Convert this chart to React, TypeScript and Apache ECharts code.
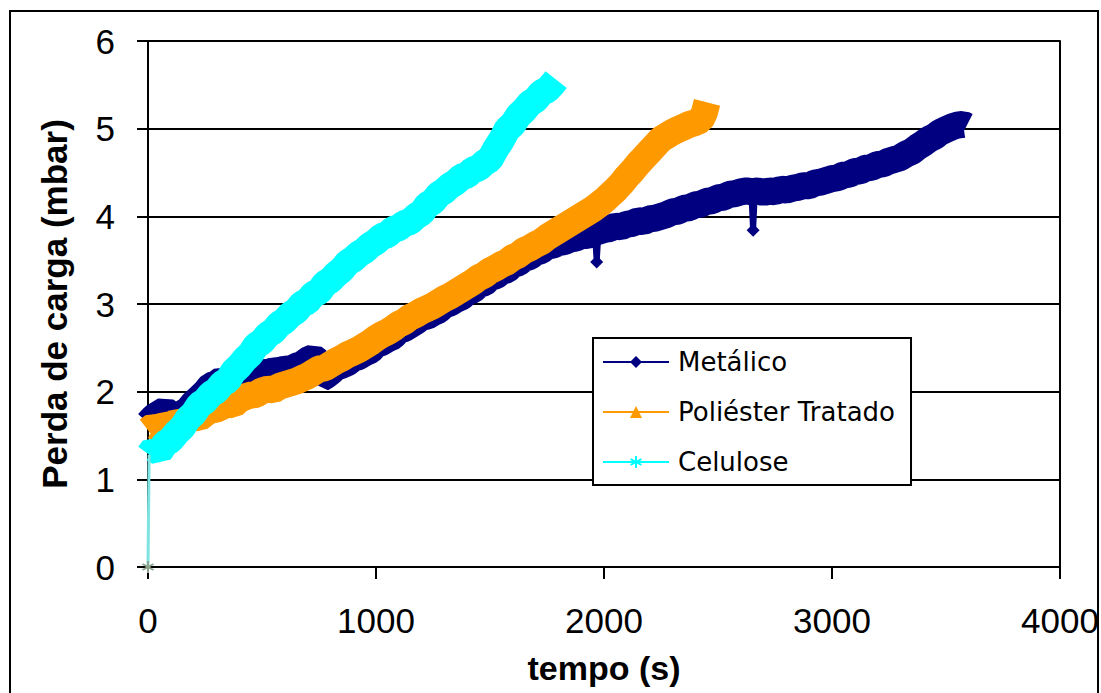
import { useEffect, useRef } from "react";
import * as echarts from "echarts";

// Perda de carga ao longo do ensaio, para três meios filtrantes.
const metalicoTempo = [
  0, 25, 50, 75, 100, 125, 150, 175, 200, 225, 250, 275, 300, 325, 350, 375, 400, 425, 450, 475,
  500, 525, 550, 575, 600, 625, 650, 675, 700, 725, 745, 760, 780, 800, 825, 850, 875, 900, 925, 950,
  975, 1000, 1025, 1050, 1075, 1100, 1125, 1150, 1175, 1200, 1225, 1250, 1275, 1300, 1325, 1350, 1375,
  1400, 1425, 1450, 1475, 1500, 1525, 1550, 1575, 1600, 1625, 1650, 1675, 1700, 1725, 1750, 1775, 1800,
  1825, 1850, 1875, 1900, 1925, 1950, 1975, 2000, 2025, 2050, 2075, 2100, 2125, 2150, 2175, 2200,
  2225, 2250, 2275, 2300, 2325, 2350, 2375, 2400, 2425, 2450, 2475, 2500, 2525, 2550, 2575, 2600, 2625,
  2650, 2675, 2700, 2725, 2750, 2775, 2800, 2825, 2850, 2875, 2900, 2925, 2950, 2975, 3000,
  3025, 3050, 3075, 3100, 3125, 3150, 3175, 3200, 3225, 3250, 3275, 3300, 3325, 3350, 3375, 3400, 3425,
  3450, 3475, 3500, 3525, 3550, 3575, 3590,
];
const metalicoPerda = [
  1.64, 1.71, 1.75, 1.79, 1.74, 1.73, 1.75, 1.79, 1.87, 1.93, 1.99, 2.07, 2.09, 2.14, 2.11, 2.15, 2.12, 2.16, 2.18, 2.17,
  2.22, 2.21, 2.24, 2.23, 2.26, 2.25, 2.29, 2.31, 2.36, 2.39, 2.35, 2.15, 2.18, 2.22, 2.28, 2.30, 2.33, 2.38, 2.40, 2.44,
  2.47, 2.54, 2.56, 2.60, 2.63, 2.70, 2.72, 2.76, 2.80, 2.85, 2.86, 2.90, 2.93, 2.99, 3.01, 3.05, 3.08,
  3.14, 3.16, 3.22, 3.24, 3.30, 3.32, 3.37, 3.39, 3.45, 3.47, 3.52, 3.54, 3.59, 3.61, 3.66, 3.67, 3.70,
  3.71, 3.74, 3.75, 3.78, 3.78, 3.81, 3.83, 3.85, 3.86, 3.89, 3.88, 3.91, 3.92, 3.95, 3.94, 3.97,
  3.98, 4.00, 4.02, 4.05, 4.06, 4.09, 4.10, 4.13, 4.14, 4.17, 4.18, 4.21, 4.22, 4.25, 4.26, 4.28, 4.29,
  4.28, 4.29, 4.27, 4.29, 4.28, 4.31, 4.30, 4.32, 4.33, 4.35, 4.35, 4.38, 4.39, 4.41, 4.43,
  4.44, 4.47, 4.48, 4.51, 4.52, 4.55, 4.56, 4.59, 4.60, 4.63, 4.65, 4.67, 4.71, 4.74, 4.79, 4.83, 4.88,
  4.91, 4.96, 4.99, 5.02, 5.04, 5.05, 5.03,
];
// leituras isoladas em que o metálico caiu momentaneamente
const metalicoQuedaTempo = [1960, 1968, 1976, 2646, 2654, 2662];
const metalicoQuedaPerda = [3.81, 3.48, 3.83, 4.28, 3.84, 4.29];

const poliesterTempo = [
  0, 25, 50, 75, 100, 125, 150, 175, 200, 225, 250, 275, 300, 325, 350, 375, 400, 425, 450, 475,
  500, 525, 550, 575, 600, 625, 650, 675, 700, 725, 750, 775, 800, 825, 850, 875, 900, 925, 950, 975,
  1000, 1025, 1050, 1075, 1100, 1125, 1150, 1175, 1200, 1225, 1250, 1275, 1300, 1325, 1350, 1375,
  1400, 1425, 1450, 1475, 1500, 1525, 1550, 1575, 1600, 1625, 1650, 1675, 1700, 1725, 1750, 1775,
  1800, 1825, 1850, 1875, 1900, 1925, 1950, 1975, 2000, 2025, 2050, 2075, 2100, 2125, 2150, 2175,
  2200, 2225, 2250, 2275, 2300, 2325, 2350, 2375, 2400, 2425, 2440, 2452,
];
const poliesterPerda = [
  1.56, 1.61, 1.58, 1.63, 1.61, 1.66, 1.64, 1.69, 1.71, 1.70, 1.75, 1.79, 1.80, 1.83, 1.86, 1.85, 1.91, 1.94, 1.96, 1.97,
  2.01, 2.03, 2.02, 2.06, 2.08, 2.10, 2.12, 2.15, 2.18, 2.22, 2.26, 2.27, 2.31, 2.35, 2.38, 2.42, 2.45, 2.48, 2.52, 2.56,
  2.61, 2.65, 2.68, 2.72, 2.77, 2.80, 2.85, 2.88, 2.92, 2.95, 2.98, 3.02, 3.06, 3.09, 3.13, 3.17,
  3.21, 3.25, 3.30, 3.33, 3.38, 3.41, 3.45, 3.48, 3.53, 3.56, 3.61, 3.64, 3.68, 3.71, 3.76, 3.80,
  3.84, 3.88, 3.92, 3.96, 4.00, 4.04, 4.08, 4.13, 4.18, 4.24, 4.30, 4.37, 4.45, 4.52, 4.60, 4.67,
  4.74, 4.81, 4.88, 4.92, 4.96, 4.99, 5.02, 5.05, 5.07, 5.10, 5.18, 5.30,
];

const celuloseTempo = [
  5, 25, 50, 75, 100, 125, 150, 175, 200, 225, 250, 275, 300, 325, 350, 375, 400, 425, 450, 475,
  500, 525, 550, 575, 600, 625, 650, 675, 700, 725, 750, 775, 800, 825, 850, 875, 900, 925, 950, 975,
  1000, 1025, 1050, 1075, 1100, 1125, 1150, 1175, 1200, 1225, 1250, 1275, 1300, 1325, 1350, 1375,
  1400, 1425, 1450, 1475, 1500, 1525, 1550, 1575, 1600, 1625, 1650, 1675, 1700, 1725, 1750, 1775, 1790,
];
const celulosePerda = [
  1.28, 1.35, 1.31, 1.41, 1.45, 1.53, 1.59, 1.69, 1.75, 1.85, 1.89, 1.97, 2.01, 2.09, 2.13, 2.23, 2.29, 2.37, 2.43, 2.53,
  2.57, 2.65, 2.69, 2.77, 2.81, 2.88, 2.92, 3.00, 3.03, 3.11, 3.14, 3.23, 3.27, 3.34, 3.39, 3.47, 3.51, 3.57, 3.61, 3.67,
  3.71, 3.77, 3.79, 3.85, 3.87, 3.92, 3.94, 4.00, 4.04, 4.13, 4.17, 4.25, 4.29, 4.35, 4.39, 4.45,
  4.47, 4.53, 4.55, 4.61, 4.65, 4.77, 4.87, 4.99, 5.05, 5.15, 5.21, 5.29, 5.33, 5.41, 5.44, 5.51, 5.56,
];
// primeiro registo da celulose: arranque a partir de zero
const celuloseInicioTempo = [0, 5];
const celuloseInicioPerda = [0, 1.28];

const NAVY = "#000080";
const LARANJA = "#ff9900";
const CIANO = "#00ffff";

const ASTERISCO =
  "path://M4.2,0L5.8,0L5.8,10L4.2,10Z M0.27,3.19L1.07,1.81L9.73,6.81L8.93,8.19Z M0.27,6.81L8.93,1.81L9.73,3.19L1.07,8.19Z";

function pares(t: number[], v: number[]) {
  return t.map((x, i) => [x, v[i]]);
}

const FONTE_EIXO = "'Liberation Sans', Arial, sans-serif";
const FONTE_TITULO = "'Liberation Sans', Arial, sans-serif";
const LARGURA_BANDA = 27;

export default function App() {
  const ref = useRef<HTMLDivElement>(null);

  useEffect(() => {
    if (!ref.current) return;
    const chart = echarts.init(ref.current, null, { renderer: "svg" });
    const linhaEixo = { show: true, onZero: false, lineStyle: { color: "#000", width: 2 } };

    const inicio = pares(celuloseInicioTempo, celuloseInicioPerda).map((p, i) =>
      i === 0
        ? { value: p, symbol: ASTERISCO, symbolSize: 12, itemStyle: { color: "#8fa58f" } }
        : { value: p, symbol: "none" }
    );

    // cada queda é um pequeno traço fino com o marcador na ponta
    const quedas: any[] = [];
    pares(metalicoQuedaTempo, metalicoQuedaPerda).forEach((p, i) => {
      if (i > 0 && i % 3 === 0) quedas.push("-");
      quedas.push(i % 3 === 1 ? { value: p, symbol: "diamond", symbolSize: 13 } : { value: p, symbol: "none" });
    });

    chart.setOption({
      animation: false,
      backgroundColor: "#fff",
      graphic: [
        {
          type: "rect",
          shape: { x: 10, y: 11, width: 1088, height: 700 },
          style: { fill: "none", stroke: "#000", lineWidth: 2 },
          silent: true,
        },
      ],
      grid: { left: 148, top: 41, width: 912, height: 526, containLabel: false, outerBoundsMode: "none" },
      xAxis: {
        type: "value",
        min: 0,
        max: 4000,
        interval: 1000,
        name: "tempo (s)",
        nameLocation: "middle",
        nameGap: 84,
        nameTextStyle: { fontFamily: FONTE_TITULO, fontWeight: "bold", fontSize: 34, color: "#000" },
        axisLine: linhaEixo,
        axisTick: { show: true, length: 12, lineStyle: { color: "#000", width: 2 } },
        axisLabel: {
          margin: 36,
          fontFamily: FONTE_EIXO,
          fontSize: 35,
          color: "#000",
          formatter: (v: number) => String(v),
        },
        splitLine: { show: false },
      },
      yAxis: [
        {
          type: "value",
          min: 0,
          max: 6,
          interval: 1,
          name: "Perda de carga (mbar)",
          nameLocation: "middle",
          nameRotate: 90,
          nameGap: 76,
          nameTextStyle: { fontFamily: FONTE_TITULO, fontWeight: "bold", fontSize: 35, color: "#000" },
          axisLine: linhaEixo,
          axisTick: { show: true, length: 11, lineStyle: { color: "#000", width: 2 } },
          axisLabel: {
            margin: 33,
            fontFamily: FONTE_EIXO,
            fontSize: 35,
            color: "#000",
            formatter: (v: number) => String(v),
          },
          splitLine: { show: true, lineStyle: { color: "#000", width: 2 } },
        },
        {
          type: "value",
          position: "right",
          min: 0,
          max: 6,
          interval: 1,
          axisLine: linhaEixo,
          axisTick: { show: false },
          axisLabel: { show: false },
          splitLine: { show: false },
        },
      ],
      legend: {
        orient: "vertical",
        left: 593,
        top: 338,
        padding: [11, 16, 10, 9],
        itemGap: 24,
        itemWidth: 66,
        itemHeight: 15,
        backgroundColor: "#fff",
        borderColor: "#000",
        borderWidth: 2,
        textStyle: {
          fontFamily: "'DejaVu Sans', Verdana, sans-serif",
          fontSize: 26,
          color: "#000",
          lineHeight: 25,
          padding: [0, 0, 0, 4],
        },
        data: [
          { name: "Metálico", itemStyle: { color: NAVY }, lineStyle: { color: NAVY, width: 2 } },
          { name: "Poliéster Tratado", itemStyle: { color: LARANJA }, lineStyle: { color: LARANJA, width: 2 } },
          { name: "Celulose", itemStyle: { color: CIANO }, lineStyle: { color: CIANO, width: 2 } },
        ],
      },
      series: [
        {
          name: "Metálico",
          type: "line",
          data: pares(metalicoTempo, metalicoPerda),
          symbol: "diamond",
          showSymbol: false,
          lineStyle: { color: NAVY, width: LARGURA_BANDA },
          itemStyle: { color: NAVY },
        },
        {
          name: "Metálico",
          type: "line",
          data: quedas,
          connectNulls: false,
          showSymbol: true,
          lineStyle: { color: NAVY, width: 6 },
          itemStyle: { color: NAVY },
        },
        {
          name: "Poliéster Tratado",
          type: "line",
          data: pares(poliesterTempo, poliesterPerda),
          symbol: "triangle",
          showSymbol: false,
          lineStyle: { color: LARANJA, width: LARGURA_BANDA },
          itemStyle: { color: LARANJA },
        },
        {
          name: "Celulose",
          type: "line",
          data: pares(celuloseTempo, celulosePerda),
          symbol: ASTERISCO,
          showSymbol: false,
          lineStyle: { color: CIANO, width: LARGURA_BANDA },
          itemStyle: { color: CIANO },
        },
        {
          name: "Celulose",
          type: "line",
          data: inicio,
          showSymbol: true,
          lineStyle: { color: "#7fe3e3", width: 3 },
          itemStyle: { color: CIANO },
        },
      ],
    });
    return () => chart.dispose();
  }, []);

  return (
    <div
      ref={ref}
      style={{ position: "fixed", left: 0, top: 0, width: "1101px", height: "693px", background: "#fff" }}
    />
  );
}
